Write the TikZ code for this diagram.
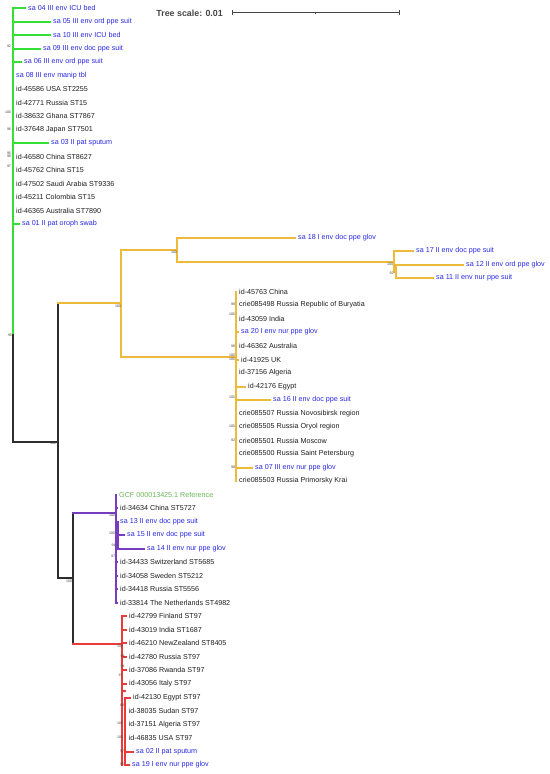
\documentclass[tikz,border=0pt]{standalone}
\usepackage{fontspec}
\setmainfont{Liberation Sans}
\definecolor{cgreen}{RGB}{50,225,50}
\definecolor{cyellow}{RGB}{238,186,60}
\definecolor{cpurple}{RGB}{120,60,195}
\definecolor{cred}{RGB}{232,60,60}
\definecolor{cblack}{RGB}{45,45,45}
\definecolor{tblue}{RGB}{40,40,225}
\definecolor{tblack}{RGB}{30,30,30}
\definecolor{tref}{RGB}{105,180,85}
\definecolor{tgray}{RGB}{70,70,70}
\newcommand\ry[1]{{round(8+13.52*(#1))}}
\tikzset{
  leaf/.style={anchor=west, inner xsep=3bp, inner ysep=0pt, font=\fontsize{7.2}{8}\selectfont, text=tblack},
  sa/.style={leaf, text=tblue},
  refl/.style={leaf, text=tref},
  bs/.style={inner sep=0pt, font=\fontsize{3.6}{4}\selectfont, text=tgray},
  br/.style={line width=2bp, line cap=rect},
  gbr/.style={br, draw=cgreen},
  ybr/.style={br, draw=cyellow},
  pbr/.style={br, draw=cpurple},
  rbr/.style={br, draw=cred},
  kbr/.style={br, draw=cblack},
}
\begin{document}
\begin{tikzpicture}[x=1bp,y=-1bp]
\useasboundingbox (0,0) rectangle (550,774);
% ---------- tree scale ----------
\node[anchor=east, inner sep=0pt, font=\bfseries\fontsize{8.9}{10}\selectfont, text=tgray] (ts) at (223,13) {Tree scale: 0.01};
\coordinate (sb1) at (232,13);
\coordinate (sb2) at (399,13);
\coordinate (sbm) at (315.5,13);
\draw[tgray, line width=1bp] (sb1) -- (sb2);
\draw[tgray, line width=1bp] ([yshift=-2.5bp]sb1) -- ([yshift=2.5bp]sb1);
\draw[tgray, line width=1bp] ([yshift=-2.5bp]sb2) -- ([yshift=2.5bp]sb2);
\draw[tgray, line width=0.8bp] ([yshift=-1.2bp]sbm) -- ([yshift=1.2bp]sbm);

% ---------- backbone ----------
\coordinate (gv) at (13,\ry{0});
\coordinate (gm) at (13,335);
\coordinate (rt) at (13,442);
\coordinate (n1) at (58,442);
\coordinate (n1t) at (58,303);
\coordinate (n1b) at (58,578);
\coordinate (n2) at (73,578);
\coordinate (n2t) at (73,513);
\coordinate (n2b) at (73,644);
\draw[gbr] (gv) -- (gm);
\draw[kbr] (gm) -- (rt) -- (n1);
\draw[kbr] (n1t) -- (n1b);
\draw[kbr] (n1b) -- (n2);
\draw[kbr] (n2t) -- (n2b);

% ---------- green clade ----------
\node[sa] (g1) at (25,\ry{0}) {sa 04 III env ICU bed};
\node[sa] (g2) at (50,\ry{1}) {sa 05 III env ord ppe suit};
\node[sa] (g3) at (50,\ry{2}) {sa 10 III env ICU bed};
\node[sa] (g4) at (40,\ry{3}) {sa 09 III env doc ppe suit};
\node[sa] (g5) at (21,\ry{4}) {sa 06 III env ord ppe suit};
\node[sa] (g6) at (13,\ry{5}) {sa 08 III env manip tbl};
\node[leaf] (g7) at (13,\ry{6}) {id-45586 USA ST2255};
\node[leaf] (g8) at (13,\ry{7}) {id-42771 Russia ST15};
\node[leaf] (g9) at (13,\ry{8}) {id-38632 Ghana ST7867};
\node[leaf] (g10) at (13,\ry{9}) {id-37648 Japan ST7501};
\node[sa] (g11) at (48,\ry{10}) {sa 03 II pat sputum};
\node[leaf] (g12) at (13,\ry{11}) {id-46580 China ST8627};
\node[leaf] (g13) at (13,\ry{12}) {id-45762 China ST15};
\node[leaf] (g14) at (13,\ry{13}) {id-47502 Saudi Arabia ST9336};
\node[leaf] (g15) at (13,\ry{14}) {id-45211 Colombia ST15};
\node[leaf] (g16) at (13,\ry{15}) {id-46365 Australia ST7890};
\node[sa] (g17) at (19,\ry{16}) {sa 01 II pat oroph swab};
\foreach \n/\r in {g1/0,g2/1,g3/2,g4/3,g5/4,g11/10,g17/16}{\draw[gbr] (13,\ry{\r}) -- (\n.west |- 0,\ry{\r});}
\node[bs] (b1) at (9,46) {92};
\node[bs] (b2) at (8,112) {100};
\node[bs] (b3) at (9,129) {96};
\node[bs] (b4) at (9,153) {95};
\node[bs] (b5) at (9,156) {98};
\node[bs] (b6) at (9,166) {97};
\node[bs] (b7) at (10,335) {95};
\node[bs] (b8) at (53,443.5) {100};
\node[bs] (b9) at (69,581) {100};

% ---------- yellow clade ----------
\coordinate (y0) at (58,303);
\coordinate (y0r) at (121,303);
\coordinate (y0t) at (121,250);
\coordinate (y0b) at (121,357);
\draw[ybr] (y0) -- (y0r);
\draw[ybr] (y0t) -- (y0b);
% upper subclade
\coordinate (y1) at (177,250);
\coordinate (y1t) at (177,\ry{17});
\coordinate (y1b) at (177,262);
\draw[ybr] (y0t) -- (y1);
\draw[ybr] (y1t) -- (y1b);
\coordinate (y2) at (394,262);
\coordinate (y2t) at (394,\ry{18});
\coordinate (y2b) at (394,272);
\coordinate (y3) at (396,272);
\coordinate (y3t) at (396,\ry{19});
\coordinate (y3b) at (396,\ry{20});
\draw[ybr] (y1b) -- (y2);
\draw[ybr] (y2t) -- (y2b) -- (y3);
\draw[ybr] (y3t) -- (y3b);
\node[sa] (u1) at (295,\ry{17}) {sa 18 I env doc ppe glov};
\node[sa] (u2) at (413,\ry{18}) {sa 17 II env doc ppe suit};
\node[sa] (u3) at (463,\ry{19}) {sa 12 II env ord ppe glov};
\node[sa] (u4) at (433,\ry{20}) {sa 11 II env nur ppe suit};
\draw[ybr] (y1t) -- (u1.west |- y1t);
\draw[ybr] (y2t) -- (u2.west |- y2t);
\draw[ybr] (y3t) -- (u3.west |- y3t);
\draw[ybr] (y3b) -- (u4.west |- y3b);
\node[bs] (b10) at (118,306) {100};
\node[bs] (b11) at (174,252.5) {100};
\node[bs] (b12) at (390,264.5) {100};
\node[bs] (b13) at (391.5,273) {92};
% lower subclade
\coordinate (y4) at (236,357);
\coordinate (y4t) at (236,\ry{21});
\coordinate (y4b) at (236,\ry{35});
\draw[ybr] (y0b) -- (y4);
\draw[ybr] (y4t) -- (y4b);
\node[leaf] (v1) at (236,\ry{21}) {id-45763 China};
\node[leaf] (v2) at (236,\ry{22}) {crie085498 Russia Republic of Buryatia};
\node[leaf] (v3) at (236,\ry{23}) {id-43059 India};
\node[sa] (v4) at (238,\ry{24}) {sa 20 I env nur ppe glov};
\node[leaf] (v5) at (236,\ry{25}) {id-46362 Australia};
\node[leaf] (v6) at (238,\ry{26}) {id-41925 UK};
\node[leaf] (v7) at (236,\ry{27}) {id-37156 Algeria};
\node[leaf] (v8) at (245,\ry{28}) {id-42176 Egypt};
\node[sa] (v9) at (270,\ry{29}) {sa 16 II env doc ppe suit};
\node[leaf] (v10) at (236,\ry{30}) {crie085507 Russia Novosibirsk region};
\node[leaf] (v11) at (236,\ry{31}) {crie085505 Russia Oryol region};
\node[leaf] (v12) at (236,\ry{32}) {crie085501 Russia Moscow};
\node[leaf] (v13) at (236,\ry{33}) {crie085500 Russia Saint Petersburg};
\node[sa] (v14) at (252,\ry{34}) {sa 07 III env nur ppe glov};
\node[leaf] (v15) at (236,\ry{35}) {crie085503 Russia Primorsky Krai};
\foreach \n/\r in {v4/24,v6/26,v8/28,v9/29,v14/34}{\draw[ybr] (236,\ry{\r}) -- (\n.west |- 0,\ry{\r});}
\node[bs] (b14) at (233,304.5) {98};
\node[bs] (b15) at (232,314) {100};
\node[bs] (b16) at (233,346) {98};
\node[bs] (b17) at (232,355.5) {100};
\node[bs] (b18) at (232,359.5) {100};
\node[bs] (b19) at (232,397) {100};
\node[bs] (b20) at (232,426) {100};
\node[bs] (b21) at (233,440) {92};
\node[bs] (b22) at (233,467.5) {98};

% ---------- purple clade ----------
\coordinate (p0) at (116,513);
\coordinate (p0t) at (116,\ry{36});
\coordinate (p0b) at (116,\ry{44});
\coordinate (p1) at (118,535);
\coordinate (p1t) at (118,\ry{38});
\coordinate (p1b) at (118,\ry{40});
\draw[pbr] (n2t) -- (p0);
\draw[pbr] (p0t) -- (p0b);
\draw[pbr] (p1 -| p0) -- (p1);
\draw[pbr] (p1t) -- (p1b);
\node[refl] (q1) at (116,\ry{36}) {GCF 000013425.1 Reference};
\node[leaf] (q2) at (117,\ry{37}) {id-34634 China ST5727};
\node[sa] (q3) at (117,\ry{38}) {sa 13 II env doc ppe suit};
\node[sa] (q4) at (124,\ry{39}) {sa 15 II env doc ppe suit};
\node[sa] (q5) at (144,\ry{40}) {sa 14 II env nur ppe glov};
\node[leaf] (q6) at (117,\ry{41}) {id-34433 Switzerland ST5685};
\node[leaf] (q7) at (117,\ry{42}) {id-34058 Sweden ST5212};
\node[leaf] (q8) at (117,\ry{43}) {id-34418 Russia ST5556};
\node[leaf] (q9) at (117,\ry{44}) {id-33814 The Netherlands ST4982};
\foreach \n/\r in {q2/37,q6/41,q7/42,q8/43,q9/44}{\draw[pbr] (116,\ry{\r}) -- (\n.west |- 0,\ry{\r});}
\foreach \n/\r in {q4/39,q5/40}{\draw[pbr] (118,\ry{\r}) -- (\n.west |- 0,\ry{\r});}
\node[bs] (b23) at (112,515.5) {100};
\node[bs] (b24) at (112,533.5) {100};
\node[bs] (b25) at (113.5,545) {94};
\node[bs] (b26) at (113,556) {97};

% ---------- red clade ----------
\coordinate (r0) at (122,644);
\coordinate (r0t) at (122,\ry{45});
\coordinate (r0b) at (122,\ry{56});
\coordinate (r1) at (125,691);
\coordinate (r1t) at (125,\ry{51});
\coordinate (r1b) at (125,\ry{56});
\draw[rbr] (n2b) -- (r0);
\draw[rbr] (r0t) -- (r0b);
\draw[rbr] (r1 -| r0) -- (r1);
\draw[rbr] (r1t) -- (r1b);
\node[leaf] (s1) at (126,\ry{45}) {id-42799 Finland ST97};
\node[leaf] (s2) at (126,\ry{46}) {id-43019 India ST1687};
\node[leaf] (s3) at (126,\ry{47}) {id-46210 NewZealand ST8405};
\node[leaf] (s4) at (126,\ry{48}) {id-42780 Russia ST97};
\node[leaf] (s5) at (126,\ry{49}) {id-37086 Rwanda ST97};
\node[leaf] (s6) at (126,\ry{50}) {id-43056 Italy ST97};
\node[leaf] (s7) at (130,\ry{51}) {id-42130 Egypt ST97};
\node[leaf] (s8) at (125.5,\ry{52}) {id-38035 Sudan ST97};
\node[leaf] (s9) at (125.5,\ry{53}) {id-37151 Algeria ST97};
\node[leaf] (s10) at (125.5,\ry{54}) {id-46835 USA ST97};
\node[sa] (s11) at (133,\ry{55}) {sa 02 II pat sputum};
\node[sa] (s12) at (129,\ry{56}) {sa 19 I env nur ppe glov};
\foreach \n/\r in {s1/45,s2/46,s3/47,s4/48,s5/49,s6/50}{\draw[rbr] (122,\ry{\r}) -- (\n.west |- 0,\ry{\r});}
\foreach \n/\r in {s7/51,s11/55,s12/56}{\draw[rbr] (125,\ry{\r}) -- (\n.west |- 0,\ry{\r});}
\node[bs] (b27) at (120,646) {100};
\node[bs] (b28) at (122.5,656.5) {98};
\node[bs] (b29) at (122.5,666.5) {94};
\node[bs] (b30) at (120.5,675) {97};
\node[bs] (b31) at (122,705.5) {88};
\node[bs] (b32) at (120,723.5) {100};
\node[bs] (b33) at (120,737.5) {100};
\node[bs] (b34) at (122,751.5) {97};
\node[bs] (b35) at (122,764.5) {95};
\end{tikzpicture}
\end{document}
